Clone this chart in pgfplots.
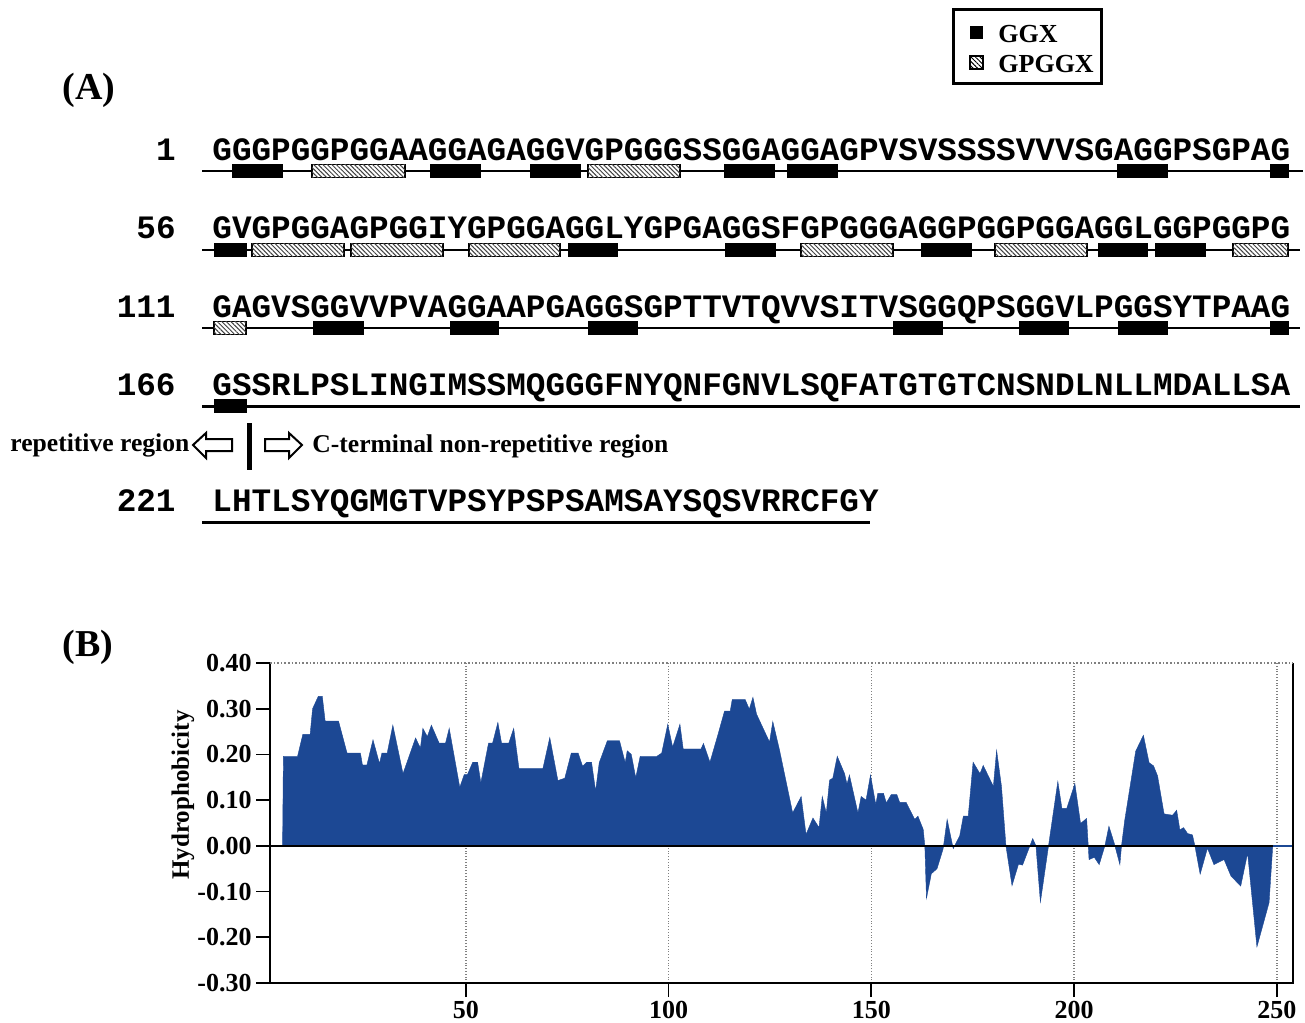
\documentclass[border=0pt]{standalone}
\usepackage{pgfplots}
\pgfplotsset{compat=1.18}
\usepackage{fontspec}
\setmainfont{Liberation Serif}
\newfontfamily\seqfont{Liberation Mono}
\usetikzlibrary{patterns.meta}
\definecolor{hblue}{RGB}{28,72,148}
\newcommand\seqf{\seqfont\bfseries\fontsize{16.33}{16}\selectfont}
\begin{document}
\begin{tikzpicture}
\begin{scope}[x=0.5pt,y=-0.5pt]
\useasboundingbox (0,0) rectangle (1305,1020);
\coordinate (P) at (270,983);
% ---------- panel labels ----------
\node[anchor=base west,inner sep=0,font=\bfseries\fontsize{19}{19}\selectfont] at (62,100) {(A)};
\node[anchor=base west,inner sep=0,font=\bfseries\fontsize{19}{19}\selectfont] at (62,656) {(B)};
% ---------- legend ----------
\draw[line width=1.5pt] (953,10) rectangle (1101,84);
\fill[black] (970,26) rectangle (983,39);
\draw[line width=0.6pt,pattern={Lines[angle=-45,distance=1.6pt,line width=0.5pt]}] (970,56) rectangle (983,69);
\node[anchor=base west,inner sep=0,font=\bfseries\fontsize{13}{13}\selectfont] at (998,43) {GGX};
\node[anchor=base west,inner sep=0,font=\bfseries\fontsize{13}{13}\selectfont] at (998,73) {GPGGX};
% ---------- sequence ----------
\foreach \n/\yb in {1/161,56/239,111/317,166/395,221/511}
  \node[anchor=base east,inner sep=0,font=\seqf] at (176,\yb) {\n};
\node[anchor=base west,inner sep=0,font=\seqf] at (212,161) {GGGPGGPGGAAGGAGAGGVGPGGGSSGGAGGAGPVSVSSSSVVVSGAGGPSGPAG};
\node[anchor=base west,inner sep=0,font=\seqf] at (212,239) {GVGPGGAGPGGIYGPGGAGGLYGPGAGGSFGPGGGAGGPGGPGGAGGLGGPGGPG};
\node[anchor=base west,inner sep=0,font=\seqf] at (212,317) {GAGVSGGVVPVAGGAAPGAGGSGPTTVTQVVSITVSGGQPSGGVLPGGSYTPAAG};
\node[anchor=base west,inner sep=0,font=\seqf] at (212,395) {GSSRLPSLINGIMSSMQGGGFNYQNFGNVLSQFATGTGTCNSNDLNLLMDALLSA};
\node[anchor=base west,inner sep=0,font=\seqf] at (212,511) {LHTLSYQGMGTVPSYPSPSAMSAYSQSVRRCFGY};
% base lines
\draw[line width=1pt] (202,171) -- (1303,171);
\draw[line width=1pt] (202,250) -- (1300,250);
\draw[line width=1pt] (202,328) -- (1300,328);
\draw[line width=1.5pt] (202,406) -- (1300,406);
\draw[line width=1.5pt] (202,522) -- (870,522);
% GGX boxes
\foreach \a/\b/\c in {232/282/171,430/480/171,530/580/171,724/774/171,787/837/171,1117/1167/171,1270/1288/171,
  214/246/250,568/617/250,725/775/250,921/971/250,1098/1147/250,1155/1205/250,
  313/363/328,450/498/328,588/637/328,893/942/328,1019/1068/328,1118/1167/328,1270/1288/328,
  214/246/406}
  \filldraw[black,line width=0.5pt] (\a,\c-6.5) rectangle (\b,\c+6.5);
% GPGGX boxes
\foreach \a/\b/\c in {312/405/171,588/680/171,
  252/344/250,351/443/250,469/560/250,801/893/250,995/1087/250,1233/1288/250,
  214/246/328}
  \draw[line width=0.6pt,fill=white,postaction={pattern={Lines[angle=-45,distance=1.6pt,line width=0.5pt]},pattern color=black!75}] (\a,\c-6.5) rectangle (\b,\c+6.5);
% region annotation
\node[anchor=base west,inner sep=0,font=\bfseries\fontsize{12.8}{13}\selectfont] at (10,451) {repetitive region};
\node[anchor=base west,inner sep=0,font=\bfseries\fontsize{12.8}{13}\selectfont] at (312,452) {C-terminal non-repetitive region};
\draw[line width=1pt,fill=white] (193,445) -- (206,433) -- (206,439) -- (232,439) -- (232,451) -- (206,451) -- (206,458) -- cycle;
\draw[line width=1pt,fill=white] (302,445) -- (289,433) -- (289,439) -- (265,439) -- (265,451) -- (289,451) -- (289,458) -- cycle;
\fill[black] (246.5,423) rectangle (251.5,470);
% ---------- hydrophobicity label ----------
\node[rotate=90,inner sep=0,font=\bfseries\fontsize{12.5}{13}\selectfont] at (183,795) {Hydrophobicity};
\end{scope}
\begin{axis}[
  at={(P)}, anchor=south west,
  scale only axis, width=511.5pt, height=160pt,
  xmin=1.7, xmax=254, ymin=-0.3, ymax=0.4,
  clip=false,
  axis line style={draw=none},
  tick pos=left, tick align=outside,
  major tick length=7pt,
  tick style={black,line width=0.9pt},
  xtick={50,100,150,200,250},
  xticklabels={50,100,150,200,250},
  ytick={-0.3,-0.2,-0.1,0,0.1,0.2,0.3,0.4},
  yticklabels={-0.30,-0.20,-0.10,0.00,0.10,0.20,0.30,0.40},
  xticklabel style={font=\bfseries\fontsize{13}{13}\selectfont,inner sep=2pt},
  yticklabel style={font=\bfseries\fontsize{13}{13}\selectfont,inner sep=2pt},
  xmajorgrids,
  grid style={densely dotted,gray,line width=0.8pt},
]
\addplot[fill=hblue,draw=hblue,line width=0.2pt] coordinates {
(4.8,0) (5,0.196) (8.5,0.196) (9.8,0.244) (11.6,0.244) (12.2,0.30) (13.6,0.327) (14.6,0.327)
(15.3,0.273) (18.6,0.273) (20.7,0.203) (24,0.203) (24.5,0.177) (25.6,0.177) (27.1,0.232)
(28.7,0.18) (29.3,0.203) (30.6,0.203) (32,0.264) (34.5,0.158) (37.6,0.236) (38.8,0.214)
(39.4,0.257) (40.5,0.239) (41.5,0.264) (43.4,0.225) (45,0.225) (45.9,0.257) (48.5,0.128)
(49.6,0.156) (50.4,0.156) (51.7,0.183) (52.9,0.183) (53.7,0.138) (55.6,0.225) (56.6,0.225)
(57.9,0.27) (58.8,0.225) (60.6,0.225) (61.8,0.257) (63.1,0.169) (69,0.169) (70.7,0.237)
(72.7,0.143) (74.4,0.148) (76,0.203) (77.7,0.203) (78.8,0.174) (79.8,0.183) (81,0.183)
(82,0.12) (82.9,0.182) (84.9,0.23) (87.9,0.23) (89.3,0.182) (89.8,0.208) (90.8,0.2)
(91.9,0.149) (93,0.196) (97.1,0.196) (98.3,0.203) (99.8,0.266) (101,0.216) (102.8,0.266)
(103.6,0.212) (108,0.212) (108.6,0.224) (110.2,0.183) (112.1,0.241) (113.8,0.295)
(115.2,0.295) (115.7,0.32) (118.9,0.32) (119.9,0.299) (120.8,0.325) (121.7,0.288)
(124.9,0.227) (125.7,0.272) (127.3,0.212) (130.6,0.072) (132.7,0.108) (133.9,0.025)
(135.6,0.061) (137.1,0.040) (137.9,0.108) (138.9,0.072) (139.7,0.144) (140.5,0.148)
(141.6,0.196) (143.4,0.158) (144,0.135) (144.6,0.155) (146.7,0.072) (147.5,0.108)
(148.7,0.10) (149.8,0.155) (151.1,0.09) (151.6,0.115) (153,0.115) (153.7,0.094)
(154.9,0.112) (156.3,0.112) (157,0.095) (158.6,0.095) (160.7,0.058) (161.5,0.065)
(162.8,0.036) (163.2,0) (163.6,-0.115) (164.8,-0.061) (166.2,-0.05) (167.7,-0.007)
(168.7,0.058) (170.2,-0.006) (171.8,0.022) (172.7,0.065) (173.9,0.065) (175.1,0.183)
(176.8,0.158) (177.6,0.176) (180.1,0.13) (180.9,0.209) (182.1,0.13) (183.2,0)
(184.7,-0.087) (186.3,-0.04) (187.3,-0.042) (189.8,0.016) (190.6,0) (191.7,-0.123)
(193.7,0) (196,0.141) (197,0.082) (198.2,0.082) (200.2,0.136) (201.6,0.049) (203.1,0.06)
(203.7,-0.03) (205,-0.025) (206.2,-0.041) (207.6,0) (208.6,0.043) (209.9,0.006)
(211.3,-0.041) (211.7,0) (212.5,0.056) (215.2,0.207) (217.1,0.242) (218.5,0.182)
(219.6,0.175) (220.6,0.153) (222.2,0.07) (224.3,0.067) (225.3,0.078) (226.1,0.035)
(227,0.04) (228,0.027) (229.2,0.024) (229.8,0) (231.1,-0.062) (232.9,-0.005)
(234.5,-0.041) (237,-0.03) (238.7,-0.066) (241.1,-0.088) (242.8,-0.016) (245.1,-0.221)
(248.1,-0.124) (249,0) (249.5,0)} -- cycle;
\addplot[black,line width=1.3pt] coordinates {(1.7,0) (249,0)};
\addplot[hblue,line width=1pt] coordinates {(249,0) (254,0)};
\draw[line width=1pt] (rel axis cs:0,1) -- (rel axis cs:0,0) -- (rel axis cs:1,0) -- (rel axis cs:1,1);
\draw[densely dotted,gray,line width=0.8pt] (rel axis cs:0,1) -- (rel axis cs:1,1);
\end{axis}
\end{tikzpicture}
\end{document}
